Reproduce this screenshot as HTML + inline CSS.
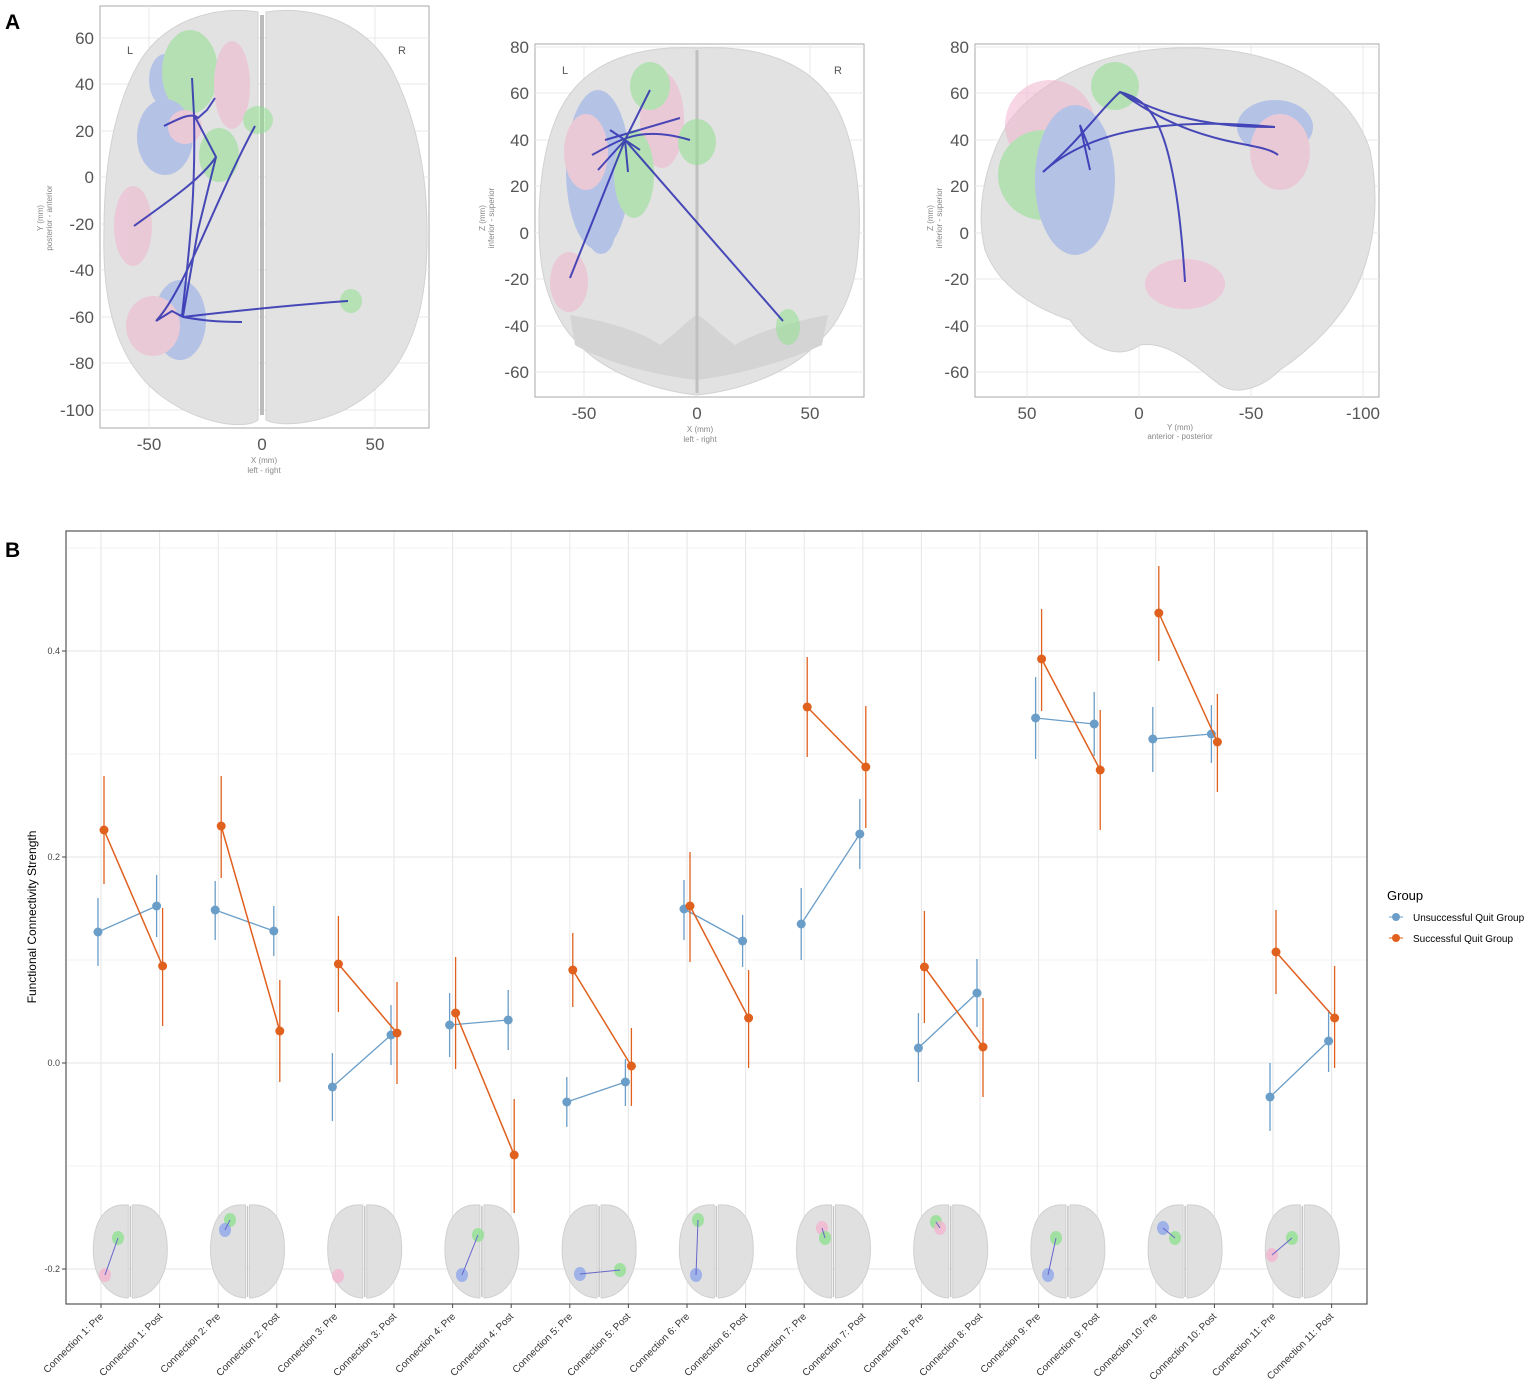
<!DOCTYPE html>
<html><head><meta charset="utf-8"><style>
body{margin:0;background:#fff}
svg{display:block;font-family:"Liberation Sans",sans-serif}
</style></head><body>
<svg id="s" width="1535" height="1386" viewBox="0 0 1535 1386">
<rect width="1535" height="1386" fill="#fff"/>
<text x="5" y="29" font-size="21" font-weight="bold">A</text>
<text x="5" y="557" font-size="21" font-weight="bold">B</text>

<!-- Plot 1 -->
<g id="p1">
<rect x="100" y="6" width="329" height="422" fill="#fff" stroke="#aaa"/>
<g stroke="#e8e8e8">
<line x1="149" y1="6" x2="149" y2="428"/><line x1="375" y1="6" x2="375" y2="428"/>
<line x1="100" y1="38" x2="429" y2="38"/><line x1="100" y1="84" x2="429" y2="84"/><line x1="100" y1="131" x2="429" y2="131"/><line x1="100" y1="177" x2="429" y2="177"/><line x1="100" y1="224" x2="429" y2="224"/><line x1="100" y1="270" x2="429" y2="270"/><line x1="100" y1="317" x2="429" y2="317"/><line x1="100" y1="363" x2="429" y2="363"/><line x1="100" y1="410" x2="429" y2="410"/>
</g>
<path d="M258 12 C215 5 160 20 135 70 C112 115 104 170 104 230 C102 300 115 360 160 395 C200 425 245 430 258 420 Z" fill="#e2e2e2" stroke="#d2d2d2"/>
<path d="M266 12 C310 5 365 20 392 70 C415 115 427 170 427 230 C428 300 415 360 368 395 C330 425 280 428 266 420 Z" fill="#e2e2e2" stroke="#d2d2d2"/>
<line x1="262" y1="15" x2="262" y2="415" stroke="#bbb" stroke-width="4"/>
<g opacity="0.55">
<ellipse cx="165" cy="80" rx="16" ry="26" fill="#8fa8ea"/>
<ellipse cx="190" cy="72" rx="28" ry="42" fill="#90e090"/>
<ellipse cx="232" cy="85" rx="18" ry="44" fill="#f2b5cf"/>
<ellipse cx="165" cy="137" rx="28" ry="38" fill="#8fa8ea"/>
<ellipse cx="185" cy="127" rx="17" ry="17" fill="#f2b5cf"/>
<ellipse cx="219" cy="155" rx="20" ry="27" fill="#90e090"/>
<ellipse cx="258" cy="120" rx="15" ry="14" fill="#90e090"/>
<ellipse cx="133" cy="226" rx="19" ry="40" fill="#f2b5cf"/>
<ellipse cx="180" cy="320" rx="26" ry="40" fill="#8fa8ea"/>
<ellipse cx="153" cy="326" rx="27" ry="30" fill="#f2b5cf"/>
<ellipse cx="351" cy="301" rx="11" ry="12" fill="#90e090"/>
</g>
<g fill="none" stroke="#2c2eb0" stroke-width="2" opacity="0.85">
<path d="M192 78 L194 115 L216 157 L198 230 L183 316 L180 315"/>
<path d="M164 126 C180 118 192 112 198 118 L207 110 L215 98"/>
<path d="M134 226 C170 200 200 180 216 157"/>
<path d="M156 321 C185 290 215 200 255 126"/>
<path d="M156 321 L172 311 L183 317 C260 308 320 303 348 301"/>
<path d="M183 317 C200 320 215 322 242 322"/>
<path d="M194 115 C196 200 188 260 182 316"/>
</g>
<g font-size="17" fill="#555" text-anchor="end">
<text x="94" y="44">60</text><text x="94" y="90">40</text><text x="94" y="137">20</text><text x="94" y="183">0</text><text x="94" y="230">-20</text><text x="94" y="276">-40</text><text x="94" y="323">-60</text><text x="94" y="369">-80</text><text x="94" y="416">-100</text>
</g>
<g font-size="17" fill="#555" text-anchor="middle"><text x="149" y="450">-50</text><text x="262" y="450">0</text><text x="375" y="450">50</text></g>
<g font-size="8" fill="#888" text-anchor="middle"><text x="264" y="463">X (mm)</text><text x="264" y="473">left - right</text></g>
<text transform="translate(43,218) rotate(-90)" font-size="8" fill="#888" text-anchor="middle">Y (mm)</text>
<text transform="translate(52,218) rotate(-90)" font-size="8" fill="#888" text-anchor="middle">posterior - anterior</text>
<text x="130" y="54" font-size="11" fill="#555" text-anchor="middle">L</text><text x="402" y="54" font-size="11" fill="#555" text-anchor="middle">R</text>
</g>

<!-- Plot 2 -->
<g>
<rect x="535" y="44" width="329" height="353" fill="#fff" stroke="#aaa"/>
<g stroke="#e8e8e8">
<line x1="584" y1="44" x2="584" y2="397"/><line x1="810" y1="44" x2="810" y2="397"/>
<line x1="535" y1="47" x2="864" y2="47"/><line x1="535" y1="93" x2="864" y2="93"/><line x1="535" y1="140" x2="864" y2="140"/><line x1="535" y1="186" x2="864" y2="186"/><line x1="535" y1="233" x2="864" y2="233"/><line x1="535" y1="279" x2="864" y2="279"/><line x1="535" y1="326" x2="864" y2="326"/><line x1="535" y1="372" x2="864" y2="372"/>
</g>
<path d="M697 48 C640 45 585 60 560 110 C540 150 537 210 540 250 C543 300 565 330 575 340 C600 370 650 390 697 395 C745 390 795 370 820 340 C832 330 855 300 858 250 C862 210 858 150 838 110 C812 60 755 45 697 48 Z" fill="#e2e2e2" stroke="#d2d2d2"/>
<path d="M570 315 C600 320 640 330 660 345 C680 330 690 318 697 315 C705 318 715 330 735 345 C760 330 800 320 828 315 L822 345 C790 360 740 375 697 380 C650 375 600 360 575 345 Z" fill="#d4d4d4"/>
<line x1="697" y1="50" x2="697" y2="393" stroke="#c0c0c0" stroke-width="3"/>
<g opacity="0.55">
<ellipse cx="598" cy="170" rx="32" ry="80" fill="#8fa8ea"/>
<ellipse cx="586" cy="152" rx="22" ry="38" fill="#f2b5cf"/>
<ellipse cx="662" cy="120" rx="22" ry="48" fill="#f2b5cf"/>
<ellipse cx="650" cy="86" rx="20" ry="24" fill="#90e090"/>
<ellipse cx="634" cy="174" rx="20" ry="44" fill="#90e090"/>
<ellipse cx="697" cy="142" rx="19" ry="23" fill="#90e090"/>
<ellipse cx="569" cy="282" rx="19" ry="30" fill="#f2b5cf"/>
<ellipse cx="788" cy="327" rx="12" ry="18" fill="#90e090"/>
<ellipse cx="601" cy="232" rx="14" ry="22" fill="#8fa8ea"/>
</g>
<g fill="none" stroke="#2c2eb0" stroke-width="2" opacity="0.85">
<path d="M650 90 L625 140 L628 172"/>
<path d="M592 155 C620 140 640 125 690 140"/>
<path d="M570 278 L625 140 L598 170"/>
<path d="M625 140 L783 321"/>
<path d="M605 140 L680 118"/>
<path d="M610 130 L640 150"/>
</g>
<g font-size="17" fill="#555" text-anchor="end">
<text x="529" y="53">80</text><text x="529" y="99">60</text><text x="529" y="146">40</text><text x="529" y="192">20</text><text x="529" y="239">0</text><text x="529" y="285">-20</text><text x="529" y="332">-40</text><text x="529" y="378">-60</text>
</g>
<g font-size="17" fill="#555" text-anchor="middle"><text x="584" y="419">-50</text><text x="697" y="419">0</text><text x="810" y="419">50</text></g>
<g font-size="8" fill="#888" text-anchor="middle"><text x="700" y="432">X (mm)</text><text x="700" y="442">left - right</text></g>
<text transform="translate(485,218) rotate(-90)" font-size="8" fill="#888" text-anchor="middle">Z (mm)</text>
<text transform="translate(494,218) rotate(-90)" font-size="8" fill="#888" text-anchor="middle">inferior - superior</text>
<text x="565" y="74" font-size="11" fill="#555" text-anchor="middle">L</text><text x="838" y="74" font-size="11" fill="#555" text-anchor="middle">R</text>
</g>

<!-- Plot 3 -->
<g>
<rect x="975" y="44" width="404" height="353" fill="#fff" stroke="#aaa"/>
<g stroke="#e8e8e8">
<line x1="1027" y1="44" x2="1027" y2="397"/><line x1="1139" y1="44" x2="1139" y2="397"/><line x1="1251" y1="44" x2="1251" y2="397"/><line x1="1363" y1="44" x2="1363" y2="397"/>
<line x1="975" y1="47" x2="1379" y2="47"/><line x1="975" y1="93" x2="1379" y2="93"/><line x1="975" y1="140" x2="1379" y2="140"/><line x1="975" y1="186" x2="1379" y2="186"/><line x1="975" y1="233" x2="1379" y2="233"/><line x1="975" y1="279" x2="1379" y2="279"/><line x1="975" y1="326" x2="1379" y2="326"/><line x1="975" y1="372" x2="1379" y2="372"/>
</g>
<path d="M1010 120 C1050 70 1120 45 1200 48 C1290 52 1350 90 1370 150 C1380 200 1375 250 1355 290 C1340 320 1310 350 1280 370 C1260 390 1235 395 1220 385 C1200 370 1170 340 1140 345 C1120 360 1090 350 1070 320 C1040 310 1000 290 985 250 C975 210 985 160 1010 120 Z" fill="#e2e2e2" stroke="#d2d2d2"/>
<g opacity="0.55">
<ellipse cx="1050" cy="125" rx="45" ry="45" fill="#f2b5cf"/>
<ellipse cx="1043" cy="175" rx="45" ry="45" fill="#90e090"/>
<ellipse cx="1075" cy="180" rx="40" ry="75" fill="#8fa8ea"/>
<ellipse cx="1115" cy="86" rx="24" ry="24" fill="#90e090"/>
<ellipse cx="1275" cy="127" rx="38" ry="27" fill="#8fa8ea"/>
<ellipse cx="1280" cy="152" rx="30" ry="38" fill="#f2b5cf"/>
<ellipse cx="1185" cy="284" rx="40" ry="25" fill="#f2b5cf"/>
</g>
<g fill="none" stroke="#2c2eb0" stroke-width="2" opacity="0.85">
<path d="M1043 172 C1080 140 1100 110 1120 92 C1150 110 1200 128 1275 127"/>
<path d="M1120 92 C1150 100 1175 120 1185 282"/>
<path d="M1120 92 C1200 150 1260 140 1278 155"/>
<path d="M1043 172 C1100 120 1200 120 1275 127"/>
<path d="M1090 150 L1080 125 L1090 170"/>
</g>
<g font-size="17" fill="#555" text-anchor="end">
<text x="969" y="53">80</text><text x="969" y="99">60</text><text x="969" y="146">40</text><text x="969" y="192">20</text><text x="969" y="239">0</text><text x="969" y="285">-20</text><text x="969" y="332">-40</text><text x="969" y="378">-60</text>
</g>
<g font-size="17" fill="#555" text-anchor="middle"><text x="1027" y="419">50</text><text x="1139" y="419">0</text><text x="1251" y="419">-50</text><text x="1363" y="419">-100</text></g>
<g font-size="8" fill="#888" text-anchor="middle"><text x="1180" y="430">Y (mm)</text><text x="1180" y="439">anterior - posterior</text></g>
<text transform="translate(933,218) rotate(-90)" font-size="8" fill="#888" text-anchor="middle">Z (mm)</text>
<text transform="translate(942,218) rotate(-90)" font-size="8" fill="#888" text-anchor="middle">inferior - superior</text>
</g>

<!-- Panel B -->
<rect x="66" y="531" width="1301" height="773" fill="#fff"/>
<g id="grid"></g>
<g id="icons"></g>
<g id="data"></g>
<rect x="66" y="531" width="1301" height="773" fill="none" stroke="#555" stroke-width="1.2"/>
<g font-size="9" fill="#444" text-anchor="end">
<text x="60" y="654">0.4</text><text x="60" y="860">0.2</text><text x="60" y="1066">0.0</text><text x="60" y="1272">-0.2</text>
</g>
<text transform="translate(36,917) rotate(-90)" font-size="12" text-anchor="middle">Functional Connectivity Strength</text>
<g id="xt" font-size="10" fill="#333" text-anchor="end">
<text transform="translate(104,1317) rotate(-45)">Connection 1: Pre</text>
<text transform="translate(163,1317) rotate(-45)">Connection 1: Post</text>
<text transform="translate(221,1317) rotate(-45)">Connection 2: Pre</text>
<text transform="translate(280,1317) rotate(-45)">Connection 2: Post</text>
<text transform="translate(338,1317) rotate(-45)">Connection 3: Pre</text>
<text transform="translate(397,1317) rotate(-45)">Connection 3: Post</text>
<text transform="translate(456,1317) rotate(-45)">Connection 4: Pre</text>
<text transform="translate(514,1317) rotate(-45)">Connection 4: Post</text>
<text transform="translate(573,1317) rotate(-45)">Connection 5: Pre</text>
<text transform="translate(631,1317) rotate(-45)">Connection 5: Post</text>
<text transform="translate(690,1317) rotate(-45)">Connection 6: Pre</text>
<text transform="translate(748,1317) rotate(-45)">Connection 6: Post</text>
<text transform="translate(807,1317) rotate(-45)">Connection 7: Pre</text>
<text transform="translate(866,1317) rotate(-45)">Connection 7: Post</text>
<text transform="translate(924,1317) rotate(-45)">Connection 8: Pre</text>
<text transform="translate(983,1317) rotate(-45)">Connection 8: Post</text>
<text transform="translate(1041,1317) rotate(-45)">Connection 9: Pre</text>
<text transform="translate(1100,1317) rotate(-45)">Connection 9: Post</text>
<text transform="translate(1158,1317) rotate(-45)">Connection 10: Pre</text>
<text transform="translate(1217,1317) rotate(-45)">Connection 10: Post</text>
<text transform="translate(1276,1317) rotate(-45)">Connection 11: Pre</text>
<text transform="translate(1334,1317) rotate(-45)">Connection 11: Post</text>
</g>
<text x="1387" y="900" font-size="13">Group</text>
<line x1="1389" y1="917" x2="1403" y2="917" stroke="#6a9ec8"/><circle cx="1396" cy="917" r="4" fill="#6a9ec8"/>
<line x1="1389" y1="938" x2="1403" y2="938" stroke="#e0601e"/><circle cx="1396" cy="938" r="4" fill="#e0601e"/>
<text x="1413" y="921" font-size="10">Unsuccessful Quit Group</text>
<text x="1413" y="942" font-size="10">Successful Quit Group</text>
</svg>
<script>
var NS="http://www.w3.org/2000/svg";
function el(p,t,a){var e=document.createElementNS(NS,t);for(var k in a)e.setAttribute(k,a[k]);p.appendChild(e);return e;}
var g=document.getElementById('grid'),ic=document.getElementById('icons'),d=document.getElementById('data');
function cx(i){return 101+i*58.6;}
[548,754,960,1166].forEach(function(y){el(g,'line',{x1:66,x2:1367,y1:y,y2:y,stroke:'#f3f3f3'});});
[651,857,1063,1269].forEach(function(y){el(g,'line',{x1:66,x2:1367,y1:y,y2:y,stroke:'#e6e6e6'});el(g,'line',{x1:62,x2:66,y1:y,y2:y,stroke:'#444'});});
for(var i=0;i<22;i++){el(g,'line',{x1:cx(i),x2:cx(i),y1:531,y2:1304,stroke:'#e6e6e6'});el(g,'line',{x1:cx(i),x2:cx(i),y1:1304,y2:1308,stroke:'#444'});}
var icb=[
[[118,1238,'#90e090'],[105,1275,'#f2b5cf']],
[[230,1220,'#90e090'],[225,1230,'#8fa8ea']],
[[338,1276,'#f2b5cf']],
[[478,1235,'#90e090'],[462,1275,'#8fa8ea']],
[[580,1274,'#8fa8ea'],[620,1270,'#90e090']],
[[698,1220,'#90e090'],[696,1275,'#8fa8ea']],
[[822,1228,'#f2b5cf'],[825,1238,'#90e090']],
[[936,1222,'#90e090'],[940,1228,'#f2b5cf']],
[[1056,1238,'#90e090'],[1048,1275,'#8fa8ea']],
[[1163,1228,'#8fa8ea'],[1175,1238,'#90e090']],
[[1272,1255,'#f2b5cf'],[1292,1238,'#90e090']]];
for(var k=0;k<11;k++){var m=(cx(2*k)+cx(2*k+1))/2;
el(ic,'path',{d:'M'+(m-2)+' 1205 C'+(m-25)+' 1203 '+(m-37)+' 1220 '+(m-37)+' 1250 C'+(m-37)+' 1280 '+(m-20)+' 1298 '+(m-2)+' 1298 Z',fill:'#e0e0e0',stroke:'#d0d0d0'});
el(ic,'path',{d:'M'+(m+2)+' 1205 C'+(m+25)+' 1203 '+(m+37)+' 1220 '+(m+37)+' 1250 C'+(m+37)+' 1280 '+(m+20)+' 1298 '+(m+2)+' 1298 Z',fill:'#e0e0e0',stroke:'#d0d0d0'});
el(ic,'line',{x1:m,x2:m,y1:1206,y2:1297,stroke:'#c4c4c4',"stroke-width":1.5});
var b=icb[k];b.forEach(function(q){el(ic,'ellipse',{cx:q[0],cy:q[1],rx:6,ry:7,fill:q[2],opacity:0.8});});
if(b.length>1)el(ic,'line',{x1:b[0][0],y1:b[0][1],x2:b[1][0],y2:b[1][1],stroke:'#6666cc'});
}
var B=[[932,898,966],[906,875,937],[910,881,940],[931,906,956],[1087,1053,1121],[1035,1005,1065],[1025,993,1057],[1020,990,1050],[1102,1077,1127],[1082,1059,1106],[909,880,940],[941,915,967],[924,888,960],[834,799,869],[1048,1013,1082],[993,959,1027],[718,677,759],[724,692,756],[739,707,772],[734,705,763],[1097,1063,1131],[1041,1010,1072]];
var O=[[830,776,884],[966,908,1026],[826,776,878],[1031,980,1082],[964,916,1012],[1033,982,1084],[1013,957,1069],[1155,1099,1213],[970,933,1007],[1066,1028,1106],[906,852,962],[1018,970,1068],[707,657,757],[767,706,828],[967,911,1023],[1047,998,1097],[659,609,711],[770,710,830],[613,566,661],[742,694,792],[952,910,994],[1018,966,1068]];
function draw(D,off,col,w){for(var k=0;k<11;k++){var a=D[2*k],c=D[2*k+1];el(d,'line',{x1:cx(2*k)+off,y1:a[0],x2:cx(2*k+1)+off,y2:c[0],stroke:col,"stroke-width":w});}
for(var i=0;i<22;i++){var p=D[i],x=cx(i)+off;el(d,'line',{x1:x,x2:x,y1:p[1],y2:p[2],stroke:col,"stroke-width":1.3});el(d,'circle',{cx:x,cy:p[0],r:4.5,fill:col});}}
draw(B,-3,'#6a9ec8',1.3);draw(O,3,'#e0601e',1.5);
</script>
</body></html>
